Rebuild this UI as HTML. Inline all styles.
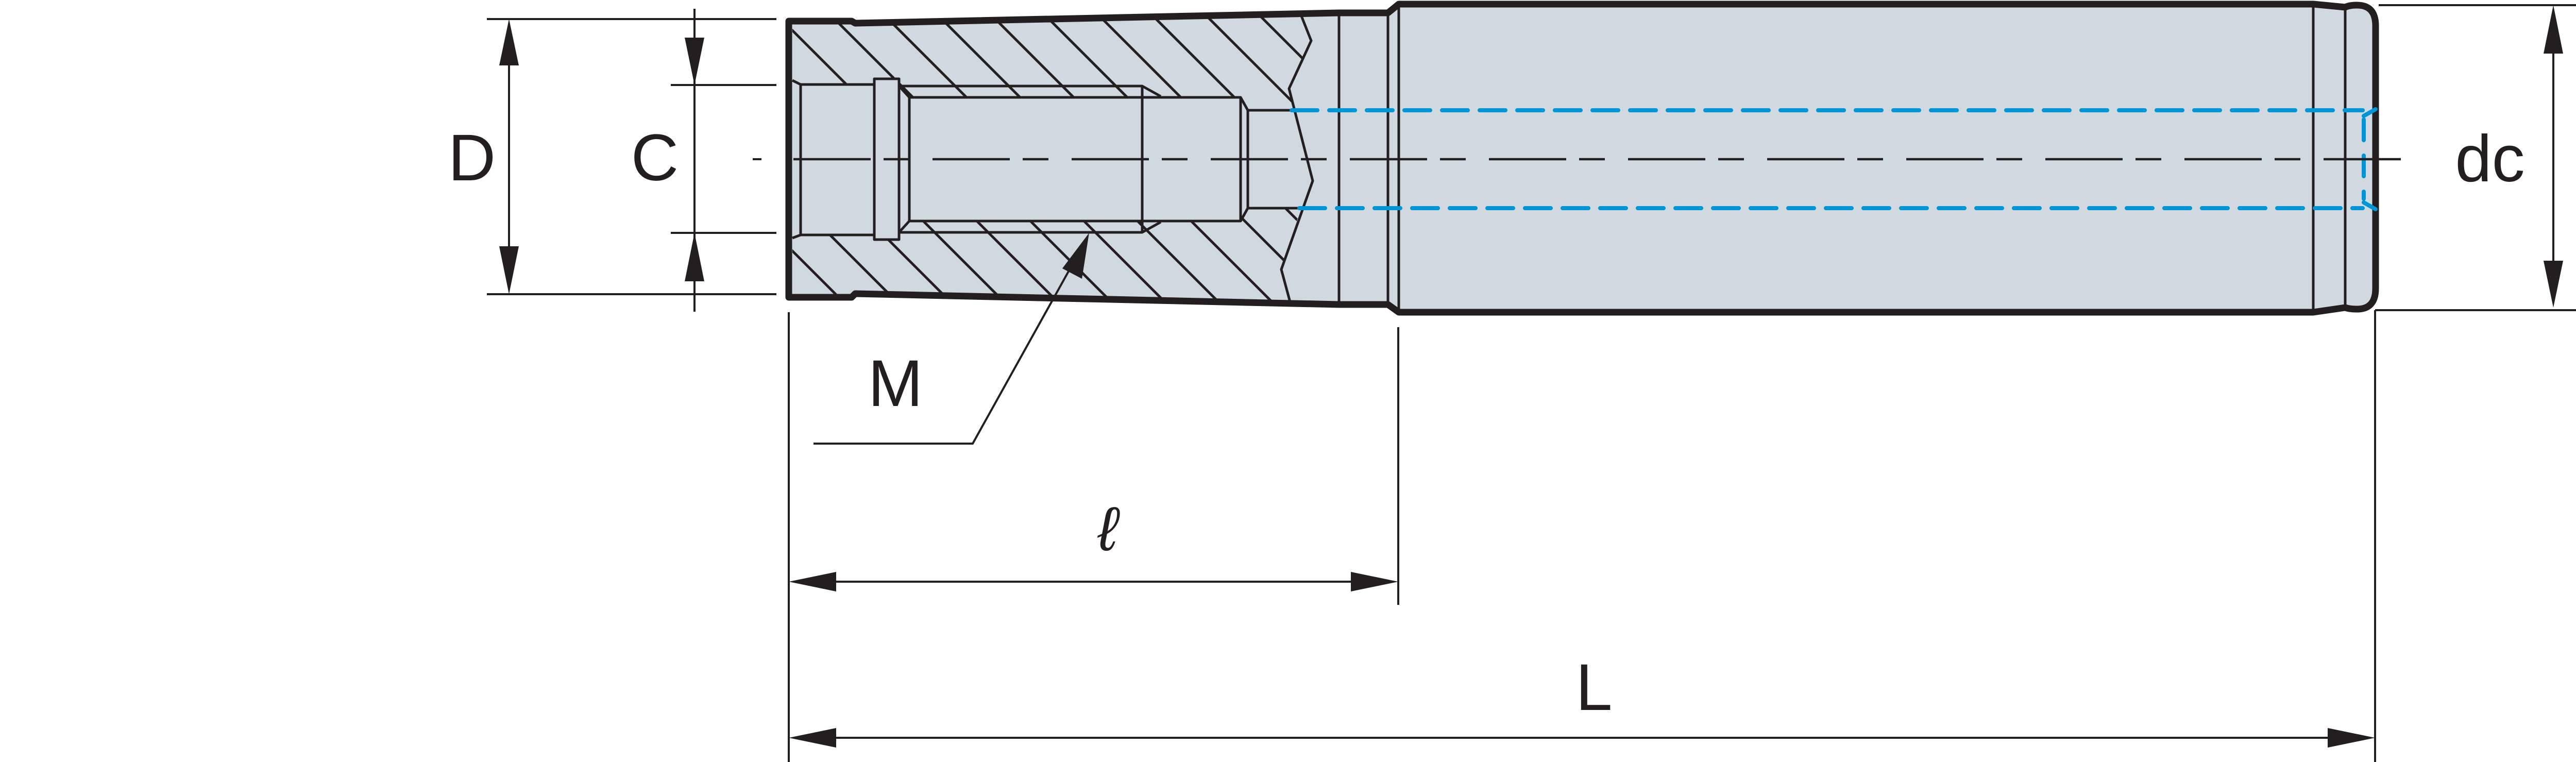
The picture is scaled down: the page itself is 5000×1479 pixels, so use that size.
<!DOCTYPE html>
<html><head><meta charset="utf-8"><style>
html,body{margin:0;padding:0;background:#fff;}
svg{display:block;}
text{font-family:"Liberation Sans",sans-serif;fill:#231f20;}
</style></head><body>
<svg width="5000" height="1479" viewBox="0 0 5000 1479" xmlns="http://www.w3.org/2000/svg">
<defs>
<clipPath id="ct"><polygon points="1538,47 1653,47 1660,51 2530,31 2545,79 2505,172 2510,214 2422,214 2408,189 1765,189 1745,167 1745,153 1697,153 1697,164 1554,164 1538,156"/></clipPath>
<clipPath id="cb"><polygon points="1538,462 1554,456 1697,456 1697,465 1745,465 1745,451 1765,429 2408,429 2422,404 2525,404 2487,523 2504,590 1660,566 1653,571 1538,571"/></clipPath>
</defs>
<path d="M1531,41 L1653,41 L1660,45 L2599,25 L2694,25 L2715,8 L4490,8 L4552,14 Q4560,10 4575,10 Q4611,10 4611,50 L4611,560 Q4611,600 4575,600 Q4560,600 4552,597 L4490,606 L2715,606 L2694,591 L2599,591 L1660,570 L1653,577 L1531,577 Z" fill="#cfd9df" stroke="#231f20" stroke-width="13" stroke-linejoin="round"/>
<g stroke="#231f20" stroke-width="5">
<g clip-path="url(#ct)">
<line x1="1271" y1="0" x2="1571" y2="300"/><line x1="1375" y1="0" x2="1675" y2="300"/><line x1="1479" y1="0" x2="1779" y2="300"/><line x1="1583" y1="0" x2="1883" y2="300"/><line x1="1687" y1="0" x2="1987" y2="300"/><line x1="1791" y1="0" x2="2091" y2="300"/><line x1="1895" y1="0" x2="2195" y2="300"/><line x1="1999" y1="0" x2="2299" y2="300"/><line x1="2103" y1="0" x2="2403" y2="300"/><line x1="2207" y1="0" x2="2507" y2="300"/><line x1="2311" y1="0" x2="2611" y2="300"/><line x1="2415" y1="0" x2="2715" y2="300"/><line x1="2519" y1="0" x2="2819" y2="300"/>
</g>
<g clip-path="url(#cb)">
<line x1="1051" y1="0" x2="1651" y2="600"/><line x1="1155" y1="0" x2="1755" y2="600"/><line x1="1259" y1="0" x2="1859" y2="600"/><line x1="1363" y1="0" x2="1963" y2="600"/><line x1="1467" y1="0" x2="2067" y2="600"/><line x1="1571" y1="0" x2="2171" y2="600"/><line x1="1675" y1="0" x2="2275" y2="600"/><line x1="1779" y1="0" x2="2379" y2="600"/><line x1="1883" y1="0" x2="2483" y2="600"/><line x1="1987" y1="0" x2="2587" y2="600"/><line x1="2091" y1="0" x2="2691" y2="600"/><line x1="947" y1="0" x2="1547" y2="600"/>
</g>
</g>
<g fill="none" stroke="#231f20" stroke-width="5" stroke-linejoin="round">
<polyline points="1538,156 1554,164 1697,164"/>
<polyline points="1538,462 1554,456 1697,456"/>
<line x1="1554" y1="164" x2="1554" y2="456"/>
<rect x="1697" y="153" width="48" height="312" fill="#cfd9df"/>
<polyline points="1745,167 2217,167 2253,187"/>
<polyline points="1745,451 2217,451 2253,431"/>
<line x1="1745" y1="167" x2="1765" y2="189"/>
<line x1="1745" y1="451" x2="1765" y2="429"/>
<rect x="1765" y="189" width="643" height="240"/>
<line x1="2217" y1="167" x2="2217" y2="451"/>
<polyline points="2408,189 2422,214 2422,404 2408,429"/>
<line x1="2422" y1="214" x2="2507" y2="214"/>
<line x1="2422" y1="404" x2="2522" y2="404"/>
<polyline points="2526,31 2545,79 2502,172 2548,351 2487,523 2504,586"/>
<line x1="2599" y1="25" x2="2599" y2="591"/>
<line x1="2694" y1="25" x2="2694" y2="591"/>
<line x1="2715" y1="8" x2="2715" y2="606"/>
<line x1="4490" y1="8" x2="4490" y2="606"/>
<line x1="4552" y1="14" x2="4552" y2="597"/>
</g>
<g stroke="#0096d6" stroke-width="8" stroke-linecap="round" fill="none">
<line x1="2507" y1="214" x2="4586" y2="214" stroke-dasharray="50,23"/>
<line x1="2522" y1="404" x2="4586" y2="404" stroke-dasharray="50,23"/>
<line x1="4588" y1="232" x2="4588" y2="386" stroke-dasharray="40,30"/>
<line x1="4588" y1="225" x2="4611" y2="212"/>
<line x1="4588" y1="393" x2="4611" y2="406"/>
</g>
<line x1="1540" y1="309" x2="4660" y2="309" stroke="#231f20" stroke-width="4.5" stroke-dasharray="150,25,50,45"/>
<line x1="1461" y1="309" x2="1478" y2="309" stroke="#231f20" stroke-width="4"/>
<g stroke="#231f20" stroke-width="4" fill="none">
<line x1="945" y1="37" x2="1507" y2="37"/>
<line x1="945" y1="571" x2="1507" y2="571"/>
<line x1="988" y1="100" x2="988" y2="510"/>
<line x1="1302" y1="165" x2="1507" y2="165"/>
<line x1="1302" y1="452" x2="1507" y2="452"/>
<line x1="1348" y1="17" x2="1348" y2="605"/>
<line x1="4617" y1="10" x2="5000" y2="10"/>
<line x1="4610" y1="602" x2="5000" y2="602"/>
<line x1="4610" y1="602" x2="4610" y2="1479"/>
<line x1="4956" y1="60" x2="4956" y2="550"/>
<line x1="1531" y1="606" x2="1531" y2="1479"/>
<line x1="2714" y1="635" x2="2714" y2="1174"/>
<line x1="1580" y1="1129" x2="2680" y2="1129"/>
<line x1="1580" y1="1432" x2="4570" y2="1432"/>
<polyline points="1579,861 1888,861 2100,480"/>
</g>
<g fill="#231f20">
<polygon points="988,37 969,127 1007,127"/>
<polygon points="988,571 969,478 1007,478"/>
<polygon points="1348,165 1329,73 1367,73"/>
<polygon points="1348,452 1329,546 1367,546"/>
<polygon points="4956,10 4937,104 4975,104"/>
<polygon points="4956,597 4937,506 4975,506"/>
<polygon points="1531,1129 1623,1110 1623,1148"/>
<polygon points="2714,1129 2622,1110 2622,1148"/>
<polygon points="1531,1432 1623,1413 1623,1451"/>
<polygon points="4610,1432 4518,1413 4518,1451"/>
<polygon points="2114,452 2100,541 2062,521"/>
</g>
<text x="916" y="350" font-size="128" text-anchor="middle">D</text>
<text x="1271" y="350" font-size="128" text-anchor="middle">C</text>
<text x="4833" y="352" font-size="128" text-anchor="middle">dc</text>
<text x="1738" y="788" font-size="128" text-anchor="middle">M</text>
<text x="3094" y="1378" font-size="128" text-anchor="middle">L</text>
<text x="2150" y="1068" font-size="120" font-style="italic" font-family="Liberation Serif, serif" text-anchor="middle">ℓ</text>
</svg>
</body></html>
